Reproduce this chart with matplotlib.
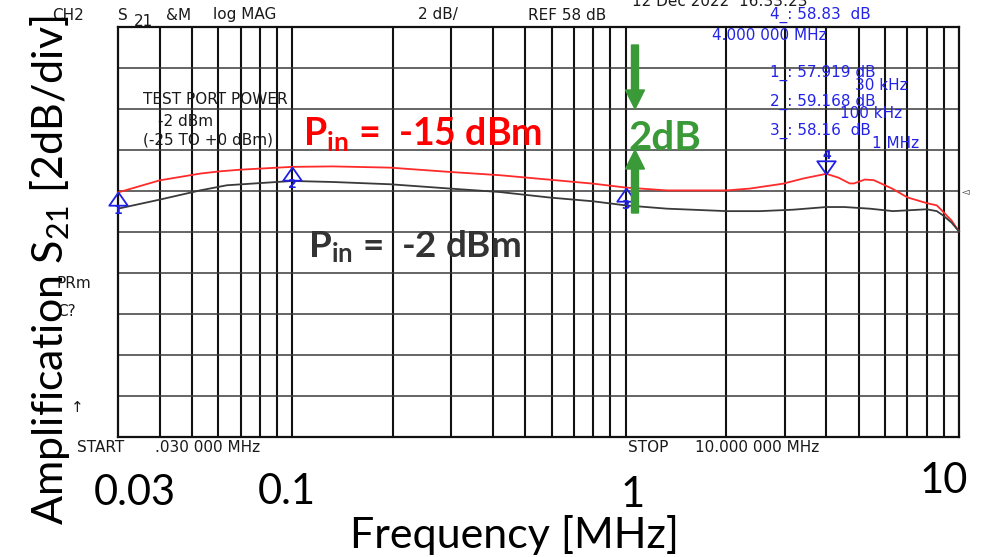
import numpy as np
import matplotlib
matplotlib.use('Agg')
import matplotlib.pyplot as plt
import matplotlib.patches as mpatches

plt.rcParams['mathtext.fontset'] = 'custom'
plt.rcParams['mathtext.rm'] = 'Lato'
plt.rcParams['mathtext.bf'] = 'Lato:bold'

# trace (MHz, dB)
freq_red = [0.03, 0.04, 0.0529, 0.0607, 0.0697, 0.1, 0.1325, 0.1965, 0.297, 0.42,
            0.594, 0.798, 1.0, 1.33, 2.01, 2.36, 2.97, 3.41, 4.0, 4.35, 4.7,
            4.84, 5.22, 5.55, 6.3, 7.0, 8.0, 8.58, 8.96, 9.5, 10.0]
s21_red = [57.92, 58.51, 58.84, 58.95, 59.03, 59.168, 59.19, 59.13, 58.92, 58.76,
           58.54, 58.35, 58.16, 58.02, 58.02, 58.11, 58.35, 58.6, 58.83, 58.64,
           58.36, 58.36, 58.55, 58.52, 58.11, 57.68, 57.4, 57.29, 56.98, 56.55, 56.02]

freq_blk = [0.03, 0.04, 0.0529, 0.0636, 0.1, 0.1325, 0.1965, 0.297, 0.42, 0.594,
            0.798, 1.0, 1.33, 2.01, 2.53, 3.18, 4.0, 4.53, 5.4, 6.34, 8.0,
            8.58, 8.96, 9.5, 10.0]
s21_blk = [57.13, 57.57, 58.02, 58.27, 58.48, 58.43, 58.32, 58.11, 57.94, 57.67,
           57.49, 57.29, 57.13, 57.01, 57.01, 57.08, 57.21, 57.21, 57.13, 57.01, 57.1,
           57.01, 56.8, 56.45, 56.02]

# markers (on the red trace)
mk_freq = [0.03, 0.1, 1.0, 4.0]
mk_val = [57.919, 59.168, 58.16, 58.83]
mk_name = ['1', '2', '3', '4']

ref_db = 58
db_div = 2
f_start, f_stop = 0.03, 10.0

tick_vals = [0.03, 0.1, 1, 10]
tick_labels = ['0.03', '0.1', '1', '10']

W, H = 990, 557
fig = plt.figure(figsize=(W / 100, H / 100), dpi=100)
fig.patch.set_facecolor('white')


def fpos(x, y):
    # picture pixels (from top-left) to figure fraction
    return x / W, 1 - y / H


ax = fig.add_axes([118 / W, (H - 437) / H, (959 - 118) / W, (437 - 26.7) / H])
ax.set_xscale('log')
ax.set_xlim(f_start, f_stop)
# reference line sits 4 divisions below the top
ax.set_ylim(ref_db - 6 * db_div, ref_db + 4 * db_div)
ax.set_xticks([])
ax.set_xticks([], minor=True)
ax.set_yticks([])
for s in ax.spines.values():
    s.set_linewidth(1.6)
    s.set_color('#111111')

grid_f = [d * m for d in (0.01, 0.1, 1) for m in range(1, 10) if f_start < d * m < f_stop]
for g in grid_f:
    ax.axvline(g, color='#111111', lw=1.5, zorder=1)
for lvl in np.arange(ref_db - 5 * db_div, ref_db + 4 * db_div, db_div):
    ax.axhline(lvl, color='#3a3a3a', lw=1.1, zorder=1)

ax.plot(freq_red, s21_red, color='#ff2a2a', lw=1.3, zorder=3, clip_on=False)
ax.plot(freq_blk, s21_blk, color='#3a3a3a', lw=1.3, zorder=3, clip_on=False)

tri_up = [(0, 0), (-0.7, -1), (0.7, -1), (0, 0)]
tri_dn = [(0, 0), (-0.7, 1), (0.7, 1), (0, 0)]
for f, v, n in zip(mk_freq, mk_val, mk_name):
    up = n != '4'
    ax.plot([f], [v], marker=tri_up if up else tri_dn, ms=19, mfc='none',
            mec='#1f1fe6', mew=1.3, zorder=4, clip_on=False)
    ax.annotate(n, (f, v), xytext=(0, -13 if up else 13), textcoords='offset points',
                ha='center', va='center', color='#1f1fe6', fontsize=9,
                family='DejaVu Sans', fontweight='bold', annotation_clip=False)

ax.text(1.004, 0.6, '◅', transform=ax.transAxes, ha='left', va='center',
        fontsize=7, color='#222222', family='DejaVu Sans')

# analyzer screen annotations
ana = dict(family='DejaVu Sans', fontsize=11, va='center', ha='left')
blk = '#1a1a1a'
blue = '#2323e8'
screen_txt = [
    ('CH2', 52, 15, blk), ('S', 118, 15, blk), ('&M', 166, 15, blk),
    ('log MAG', 213, 15, blk), ('2 dB/', 418, 15, blk), ('REF 58 dB', 528, 15, blk),
    ('12 Dec 2022  16:33:23', 632, 1, blk),
    ('4_: 58.83  dB', 770, 15, blue), ('4.000 000 MHz', 712, 36, blue),
    ('1_: 57.919 dB', 770, 73, blue), ('30 kHz', 855, 85, blue),
    ('2_: 59.168 dB', 770, 102, blue), ('100 kHz', 840, 113, blue),
    ('3_: 58.16  dB', 770, 131, blue), ('1 MHz', 872, 143, blue),
    ('TEST PORT POWER', 143, 99, blk), ('-2 dBm', 158, 122, blk),
    ('(-25 TO +0 dBm)', 143, 140, blk), ('PRm', 57, 284, blk), ('C?', 57, 311, blk),
    ('↑', 71, 407, blk), ('START', 77, 447, blk), ('.030 000 MHz', 155, 447, blk),
    ('STOP', 628, 447, blk), ('10.000 000 MHz', 695, 447, blk),
]
for t, x, y, c in screen_txt:
    fig.text(*fpos(x, y), t, color=c, **ana)
fig.text(*fpos(134, 21), '21', color=blk, **ana)

# slide overlay
ov = dict(family='Lato', va='baseline', ha='left')
fig.text(*fpos(303, 145), r'$\mathbf{P_{in}}$ =  -15 dBm', color='#ff0000',
         fontsize=27, fontweight='bold', **ov)
fig.text(*fpos(308, 257), r'$\mathbf{P_{in}}$ =  -2 dBm', color='#333333',
         fontsize=26.5, fontweight='bold', **ov)
fig.text(*fpos(629, 150), '2dB', color='#3a9a38', fontsize=29, fontweight='bold', **ov)

green = '#3a9a38'
for y0, y1 in [(45, 109), (213, 150)]:
    x0, ya = fpos(635, y0)
    _, yb = fpos(635, y1)
    fig.add_artist(mpatches.FancyArrow(x0, ya, 0, yb - ya, width=7 / W,
                                       head_width=19 / W, head_length=19 / H,
                                       length_includes_head=True, color=green,
                                       transform=fig.transFigure))

tick_dx = [12, -4, 5, -11]
tick_y = [505, 504, 507, 493]
for v, lab, dx, ty in zip(tick_vals, tick_labels, tick_dx, tick_y):
    ax.annotate(lab, (v, 0), xycoords=('data', 'axes fraction'),
                xytext=(dx, -(ty - 437) * 0.72), textcoords='offset points',
                ha='center', va='baseline', fontsize=30, family='Lato',
                annotation_clip=False)

fig.text(*fpos(515, 548), 'Frequency [MHz]', family='Lato', fontsize=31,
         ha='center', va='baseline')
fig.text(*fpos(50, 270), r'Amplification S$_{21}$ [2dB/div]', family='Lato',
         fontsize=31, rotation=90, ha='center', va='center')

fig.savefig('out.png', dpi=100, facecolor='white')
